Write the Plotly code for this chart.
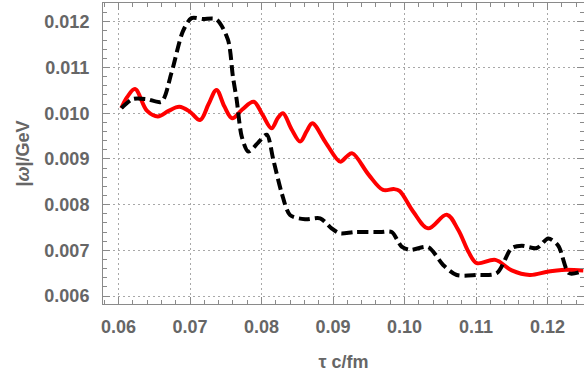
import plotly.graph_objects as go

tau_red = [0.0604, 0.0612, 0.0623, 0.0640, 0.0655, 0.0670, 0.0685, 0.0700, 0.0714,
           0.0726, 0.0737, 0.0748, 0.0759, 0.0773, 0.0789, 0.0802, 0.0814, 0.0823,
           0.0830, 0.0842, 0.0854, 0.0863, 0.0871, 0.0890, 0.0910, 0.0919, 0.0927,
           0.0950, 0.0970, 0.0985, 0.0993, 0.1012, 0.1033, 0.1059, 0.1075, 0.1090,
           0.1101, 0.1127, 0.1150, 0.1175, 0.1200, 0.1220, 0.1250]
omega_red = [0.01011, 0.01035, 0.01053, 0.01005, 0.00993, 0.01005, 0.01014, 0.01003, 0.00985,
             0.01020, 0.01051, 0.01015, 0.00989, 0.01008, 0.01025, 0.00995, 0.00967, 0.00990,
             0.01000, 0.00965, 0.00938, 0.00960, 0.00978, 0.00935, 0.00894, 0.00905, 0.00912,
             0.00865, 0.00832, 0.00834, 0.00830, 0.00785, 0.00748, 0.00778, 0.00745, 0.00695,
             0.00672, 0.00679, 0.00656, 0.00646, 0.00653, 0.00657, 0.00656]

tau_blk = [0.0604, 0.0620, 0.0639, 0.0660, 0.0674, 0.0690, 0.0702, 0.0718, 0.0737,
           0.0753, 0.0760, 0.07653, 0.07723, 0.07815, 0.0795, 0.08073, 0.08165, 0.08283,
           0.0840, 0.0861, 0.0882, 0.0898, 0.0910, 0.0930, 0.0966, 0.0982, 0.0996,
           0.1008, 0.1033, 0.1054, 0.1073, 0.1101, 0.1129, 0.1150, 0.1164, 0.1185,
           0.1201, 0.1215, 0.1230, 0.1246]
omega_blk = [0.01011, 0.01031, 0.01031, 0.01025, 0.01088, 0.01179, 0.01208, 0.01206, 0.01205,
             0.01161, 0.01080, 0.01029, 0.00949, 0.00916, 0.00935, 0.00953, 0.00898, 0.00825,
             0.00777, 0.00768, 0.00770, 0.00748, 0.00737, 0.00740, 0.00740, 0.00740, 0.00708,
             0.00701, 0.00707, 0.00668, 0.00646, 0.00646, 0.00650, 0.00705, 0.00710, 0.00705,
             0.00726, 0.00710, 0.00650, 0.00653]

x_ticks = [0.06, 0.07, 0.08, 0.09, 0.10, 0.11, 0.12]
x_tick_labels = ["0.06", "0.07", "0.08", "0.09", "0.10", "0.11", "0.12"]
y_ticks = [0.006, 0.007, 0.008, 0.009, 0.010, 0.011, 0.012]
y_tick_labels = ["0.006", "0.007", "0.008", "0.009", "0.010", "0.011", "0.012"]

FONT = "Liberation Sans"
LABEL = "#666666"
FRAME = "#8a8a8a"
GRID = "#a8a8a8"

fig = go.Figure()
fig.add_trace(go.Scatter(x=tau_red, y=omega_red, mode="lines",
                         line=dict(color="#ff0000", width=4, shape="spline", smoothing=1.0),
                         showlegend=False, hoverinfo="skip"))
fig.add_trace(go.Scatter(x=tau_blk, y=omega_blk, mode="lines",
                         line=dict(color="#000000", width=4, shape="spline", smoothing=0.8,
                                   dash="11px,5px"),
                         showlegend=False, hoverinfo="skip"))

axis_common = dict(
    showline=True, linecolor=FRAME, linewidth=1, mirror="ticks",
    ticks="inside", ticklen=7, tickcolor=FRAME, tickwidth=1,
    showgrid=True, gridcolor=GRID, gridwidth=1, griddash="2px,3px",
    zeroline=False, automargin=False,
    tickfont=dict(family=FONT, size=18, color=LABEL, weight="bold"),
)

fig.update_xaxes(
    range=[0.05783, 0.1251], tickvals=x_ticks, ticktext=x_tick_labels,
    minor=dict(ticks="inside", ticklen=4, tickcolor=FRAME, dtick=0.002, showgrid=False),
    title=dict(text="τ c/fm", font=dict(family=FONT, size=18, color=LABEL, weight="bold"), standoff=20),
    ticklabelstandoff=6,
    **axis_common,
)
fig.update_yaxes(
    range=[0.005825, 0.012411], tickvals=y_ticks, ticktext=y_tick_labels,
    minor=dict(ticks="inside", ticklen=4, tickcolor=FRAME, dtick=0.0002, showgrid=False),
    title=dict(text="|<i>ω</i>|/GeV", font=dict(family=FONT, size=18, color=LABEL, weight="bold"), standoff=10),
    ticklabelstandoff=9,
    **axis_common,
)

fig.update_layout(
    width=584, height=372,
    margin=dict(l=103, r=0, t=3, b=68),
    plot_bgcolor="white", paper_bgcolor="white",
)

fig.write_html("out.html", config={"displayModeBar": False},
               post_script="document.body.style.margin='0';")
